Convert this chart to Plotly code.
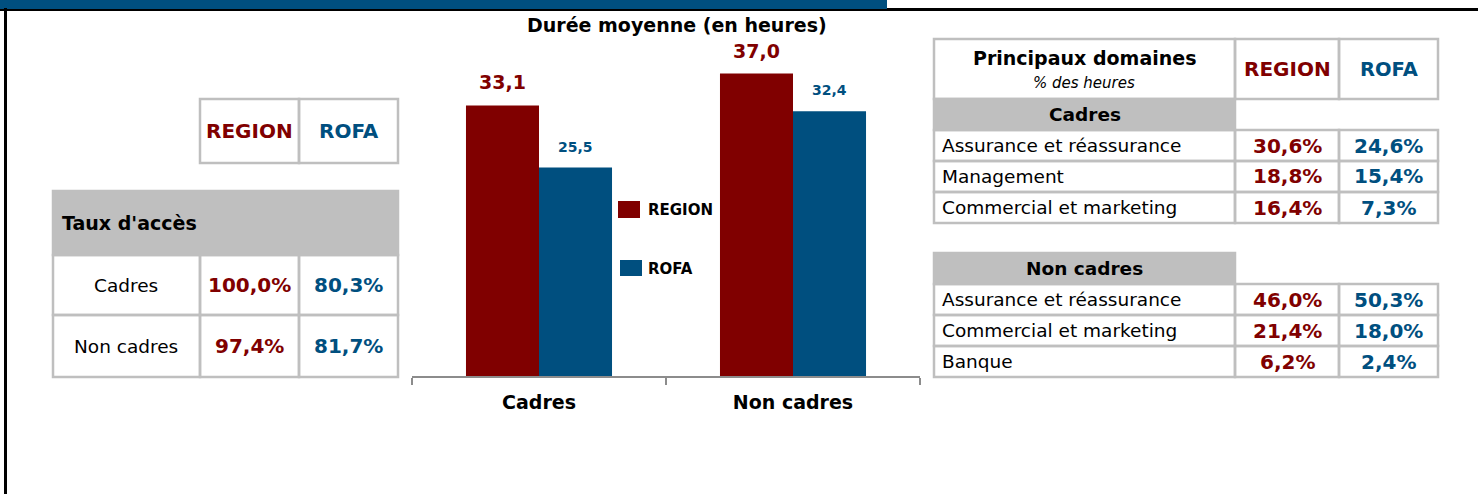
import plotly.graph_objects as go

# ---------------- data ----------------
categories = ["Cadres", "Non cadres"]
series_names = ["REGION", "ROFA"]
duree_region = [33.1, 37.0]
duree_rofa = [25.5, 32.4]

acces_labels = ["Cadres", "Non cadres"]
acces_region = [100.0, 97.4]
acces_rofa = [80.3, 81.7]

cadres_domaines = ["Assurance et réassurance", "Management", "Commercial et marketing"]
cadres_region = [30.6, 18.8, 16.4]
cadres_rofa = [24.6, 15.4, 7.3]

noncadres_domaines = ["Assurance et réassurance", "Commercial et marketing", "Banque"]
noncadres_region = [46.0, 21.4, 6.2]
noncadres_rofa = [50.3, 18.0, 2.4]

# ---------------- style ----------------
W, H = 1478, 494
RED = "#800000"
BLUE = "#004F7F"
GRAY = "#BFBFBF"
FONT = "DejaVu Sans"


def px(x):
    return x / W


def py(y):
    return 1 - y / H


def fr(v, pct=False):
    s = f"{v:.1f}".replace(".", ",")
    return s + "%" if pct else s


fig = go.Figure()
fig.add_trace(go.Bar(x=categories, y=duree_region, name=series_names[0],
                     marker=dict(color=RED, line=dict(width=0)), showlegend=False,
                     hoverinfo="skip"))
fig.add_trace(go.Bar(x=categories, y=duree_rofa, name=series_names[1],
                     marker=dict(color=BLUE, line=dict(width=0)), showlegend=False,
                     hoverinfo="skip"))

shapes = []
annotations = []


def rect(x0, y0, x1, y1, fill=None, line=GRAY, lw=2.5):
    shapes.append(dict(type="rect", xref="paper", yref="paper",
                       x0=px(x0), x1=px(x1), y0=py(y1), y1=py(y0),
                       fillcolor=fill if fill else "rgba(0,0,0,0)",
                       line=dict(color=line, width=lw) if lw else dict(width=0),
                       layer="above"))


def text(x, y, t, size, color="black", bold=False, italic=False, xanchor="center"):
    if bold:
        t = f"<b>{t}</b>"
    if italic:
        t = f"<i>{t}</i>"
    annotations.append(dict(x=px(x), y=py(y), xref="paper", yref="paper", text=t,
                            showarrow=False, xanchor=xanchor, yanchor="middle",
                            font=dict(family=FONT, size=size, color=color)))


# ---------------- frame decorations ----------------
rect(0, 8, W, 11, fill="black", line="black", lw=0)
rect(0, 0, 887, 9, fill=BLUE, line=BLUE, lw=0)
rect(4, 8, 7, H, fill="black", line="black", lw=0)

# ---------------- left table ----------------
rect(200, 99, 299, 163)
rect(299, 99, 398, 163)
text(249.5, 131, series_names[0], 20, RED, bold=True)
text(348.5, 131, series_names[1], 20, BLUE, bold=True)

rect(53, 191, 398, 255, fill=GRAY, line=GRAY, lw=2.5)
text(60, 223, "Taux d'accès", 19, bold=True, xanchor="left")
row_tops = [255, 315]
row_bots = [315, 377]
for i, lab in enumerate(acces_labels):
    y0, y1 = row_tops[i], row_bots[i]
    rect(53, y0, 200, y1)
    rect(200, y0, 299, y1)
    rect(299, y0, 398, y1)
    yc = (y0 + y1) / 2
    text(126.5, yc, lab, 18.5)
    text(249.5, yc, fr(acces_region[i], True), 20, RED, bold=True)
    text(348.5, yc, fr(acces_rofa[i], True), 20, BLUE, bold=True)

# ---------------- right tables ----------------
XL, XC1, XC2, XR = 934, 1235, 1339, 1438
rect(XL, 39, XC1, 99)
rect(XC1, 39, XC2, 99)
rect(XC2, 39, XR, 99)
text(1084, 58, "Principaux domaines", 19, bold=True)
text(1084, 83, "% des heures", 15, italic=True)
text((XC1 + XC2) / 2, 69, series_names[0], 20, RED, bold=True)
text((XC2 + XR) / 2, 69, series_names[1], 19.5, BLUE, bold=True)


def domain_block(title, top, labels, vr, vf):
    rect(XL, top, XC1, top + 31, fill=GRAY, line=GRAY)
    text((XL + XC1) / 2, top + 15.5, title, 18.5, bold=True)
    y = top + 31
    for i, lab in enumerate(labels):
        y0, y1 = y, y + 31
        rect(XL, y0, XC1, y1)
        rect(XC1, y0, XC2, y1)
        rect(XC2, y0, XR, y1)
        yc = (y0 + y1) / 2
        text(940, yc, lab, 18.5, xanchor="left")
        text((XC1 + XC2) / 2, yc, fr(vr[i], True), 20, RED, bold=True)
        text((XC2 + XR) / 2, yc, fr(vf[i], True), 20, BLUE, bold=True)
        y = y1


domain_block("Cadres", 99, cadres_domaines, cadres_region, cadres_rofa)
domain_block("Non cadres", 253, noncadres_domaines, noncadres_region, noncadres_rofa)

# ---------------- bar chart texts ----------------
text(677, 25, "Durée moyenne (en heures)", 19, bold=True)
for i, cat in enumerate(categories):
    annotations.append(dict(x=cat, y=duree_region[i], xref="x", yref="y",
                            text=f"<b>{fr(duree_region[i])}</b>", showarrow=False,
                            xshift=-36.5, yshift=23, yanchor="middle",
                            font=dict(family=FONT, size=19, color=RED)))
    annotations.append(dict(x=cat, y=duree_rofa[i], xref="x", yref="y",
                            text=f"<b>{fr(duree_rofa[i])}</b>", showarrow=False,
                            xshift=36.5, yshift=21, yanchor="middle",
                            font=dict(family=FONT, size=14, color=BLUE)))

# custom legend
rect(618, 201, 640, 218, fill=RED, line=RED, lw=0)
text(646, 210, series_names[0], 15, bold=True, xanchor="left")
rect(620, 260, 642, 276, fill=BLUE, line=BLUE, lw=0)
text(646, 269, series_names[1], 15, bold=True, xanchor="left")

fig.update_layout(
    width=W, height=H,
    margin=dict(l=0, r=0, t=0, b=0),
    paper_bgcolor="white", plot_bgcolor="white",
    barmode="group", bargap=0.425, bargroupgap=0,
    showlegend=False,
    font=dict(family=FONT, color="black"),
    xaxis=dict(domain=[px(412), px(920)], range=[-0.5, 1.5], showgrid=False,
               showline=True, linecolor="#8C8C8C", linewidth=2,
               ticks="outside", ticklen=7, tickwidth=2, tickcolor="#8C8C8C",
               tickson="boundaries", ticklabelstandoff=8,
               tickfont=dict(family=FONT, size=19, color="black", weight="bold"),
               fixedrange=True, zeroline=False),
    yaxis=dict(domain=[py(376), py(45)], range=[0, 40.5], visible=False,
               showgrid=False, zeroline=False, fixedrange=True),
    shapes=shapes,
    annotations=annotations,
)

fig.write_html("out.html", config={"displayModeBar": False},
               post_script="document.body.style.margin='0';document.body.style.overflow='hidden';")
